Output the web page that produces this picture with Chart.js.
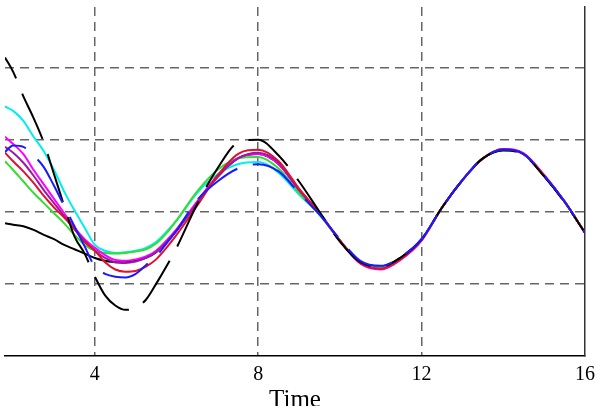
<!DOCTYPE html>
<html>
<head>
<meta charset="utf-8">
<script src="https://cdn.jsdelivr.net/npm/chart.js@4/dist/chart.umd.min.js"></script>
<style>
html,body{margin:0;padding:0;background:#fff;overflow:hidden;}
#wrap{width:608px;height:423px;}
</style>
</head>
<body>
<div id="wrap"><canvas id="c" width="608" height="423"></canvas></div>
<script>
const time = [1.8,2.0,2.25,2.5,2.75,3.0,3.25,3.5,3.75,4.0,4.25,4.5,4.75,5.0,5.25,5.5,5.75,6.0,6.5,7.0,7.5,8.0,8.5,9.0,9.5,10.0,10.5,11.0,11.5,12.0,12.5,13.0,13.5,14.0,14.5,15.0,15.5,16.0];
const blueDashed  = [0.415,0.46,0.45,0.39,0.31,0.18,0.04,-0.10,-0.24,-0.38,-0.43,-0.45,-0.455,-0.43,-0.37,-0.31,-0.22,-0.13,0.08,0.21,0.30,0.33,0.28,0.13,-0.02,-0.19,-0.34,-0.375,-0.31,-0.19,0.03,0.22,0.37,0.43,0.40,0.25,0.07,-0.145];
const blackDashed = [1.07,0.97,0.80,0.65,0.48,0.26,0.04,-0.17,-0.29,-0.45,-0.58,-0.65,-0.68,-0.665,-0.61,-0.50,-0.38,-0.25,0.05,0.30,0.48,0.50,0.39,0.21,0.00,-0.207,-0.35,-0.38,-0.315,-0.19,0.03,0.22,0.37,0.425,0.395,0.245,0.065,-0.145];
const cyan    = [0.73,0.70,0.63,0.52,0.42,0.29,0.14,0.01,-0.11,-0.23,-0.27,-0.285,-0.28,-0.27,-0.25,-0.21,-0.14,-0.06,0.13,0.26,0.33,0.345,0.27,0.12,-0.02,-0.20,-0.35,-0.385,-0.32,-0.19,0.03,0.22,0.37,0.43,0.40,0.25,0.07,-0.145];
const green   = [0.35,0.29,0.21,0.13,0.06,-0.01,-0.08,-0.16,-0.23,-0.27,-0.285,-0.29,-0.285,-0.275,-0.26,-0.22,-0.15,-0.06,0.14,0.29,0.37,0.38,0.30,0.13,-0.02,-0.20,-0.35,-0.385,-0.32,-0.19,0.03,0.22,0.37,0.43,0.40,0.25,0.07,-0.145];
const magenta = [0.52,0.47,0.40,0.29,0.19,0.09,-0.01,-0.11,-0.19,-0.25,-0.30,-0.335,-0.34,-0.33,-0.31,-0.27,-0.20,-0.12,0.07,0.25,0.37,0.40,0.33,0.15,-0.01,-0.20,-0.36,-0.40,-0.33,-0.20,0.03,0.22,0.37,0.435,0.405,0.255,0.07,-0.145];
const purple  = [0.45,0.41,0.34,0.25,0.15,0.06,-0.03,-0.12,-0.20,-0.27,-0.32,-0.35,-0.355,-0.345,-0.32,-0.28,-0.21,-0.13,0.06,0.24,0.37,0.41,0.34,0.15,-0.01,-0.20,-0.355,-0.395,-0.325,-0.195,0.03,0.22,0.37,0.435,0.40,0.25,0.07,-0.145];
const red     = [0.41,0.35,0.28,0.20,0.11,0.03,-0.04,-0.12,-0.21,-0.27,-0.35,-0.40,-0.415,-0.41,-0.38,-0.33,-0.25,-0.16,0.04,0.25,0.40,0.43,0.35,0.16,-0.01,-0.20,-0.355,-0.395,-0.325,-0.195,0.03,0.22,0.37,0.43,0.40,0.25,0.07,-0.145];
const blackSolid = [-0.08,-0.09,-0.10,-0.125,-0.16,-0.19,-0.23,-0.26,-0.29,-0.32,-0.34,-0.35,-0.35,-0.34,-0.32,-0.28,-0.21,-0.13,0.06,0.24,0.37,0.40,0.33,0.15,-0.01,-0.20,-0.35,-0.38,-0.315,-0.19,0.03,0.22,0.37,0.43,0.40,0.25,0.07,-0.145];
const xTicks = [4,8,12,16];
const yGrid = [-1,-0.5,0,0.5,1];

function pts(arr){ return time.map((t,i)=>({x:t,y:arr[i]})); }
function ds(arr,color,dash){
  return {data:pts(arr),borderColor:color,borderWidth:2,pointRadius:0,fill:false,
          cubicInterpolationMode:'monotone',borderDash:dash||[],borderDashOffset:dash?26:0};
}

new Chart(document.getElementById('c'),{
  type:'line',
  data:{datasets:[
    ds(blueDashed,'#1a1aff',[50,16]),
    ds(blackDashed,'#000000',[50,16]),
    ds(red,'#e0102e'),
    ds(purple,'#9a1aa8'),
    ds(magenta,'#ff00ff'),
    ds(green,'#33dd33'),
    ds(cyan,'#00eeee'),
    ds(blackSolid,'#000000')
  ]},
  options:{
    responsive:false,animation:false,
    layout:{padding:{left:5,right:23,top:7,bottom:0}},
    plugins:{legend:{display:false},tooltip:{enabled:false}},
    scales:{
      x:{type:'linear',min:1.8,max:16,
        afterBuildTicks:a=>{a.ticks=xTicks.map(v=>({value:v}));},
        grid:{drawTicks:false,color:c=>c.tick&&c.tick.value===16?'rgba(0,0,0,0)':'#666',lineWidth:1.5},
        border:{display:true,color:'#000',width:1.5,dash:[9,6]},
        ticks:{padding:9,color:'#000',font:{family:'Liberation Serif',size:20,lineHeight:1},maxRotation:0},
        title:{display:true,text:'Time',color:'#000',font:{family:'Liberation Serif',size:25,lineHeight:1},padding:{top:-6,bottom:10}}
      },
      y:{type:'linear',position:'right',min:-1,max:1.42,
        afterBuildTicks:a=>{a.ticks=yGrid.map(v=>({value:v}));},
        grid:{drawTicks:false,color:c=>c.tick&&c.tick.value===-1?'rgba(0,0,0,0)':'#666',lineWidth:1.5},
        border:{display:true,color:'#333',width:1.5,dash:[9,6]},
        ticks:{display:false}
      }
    }
  }
});
</script>
</body>
</html>
